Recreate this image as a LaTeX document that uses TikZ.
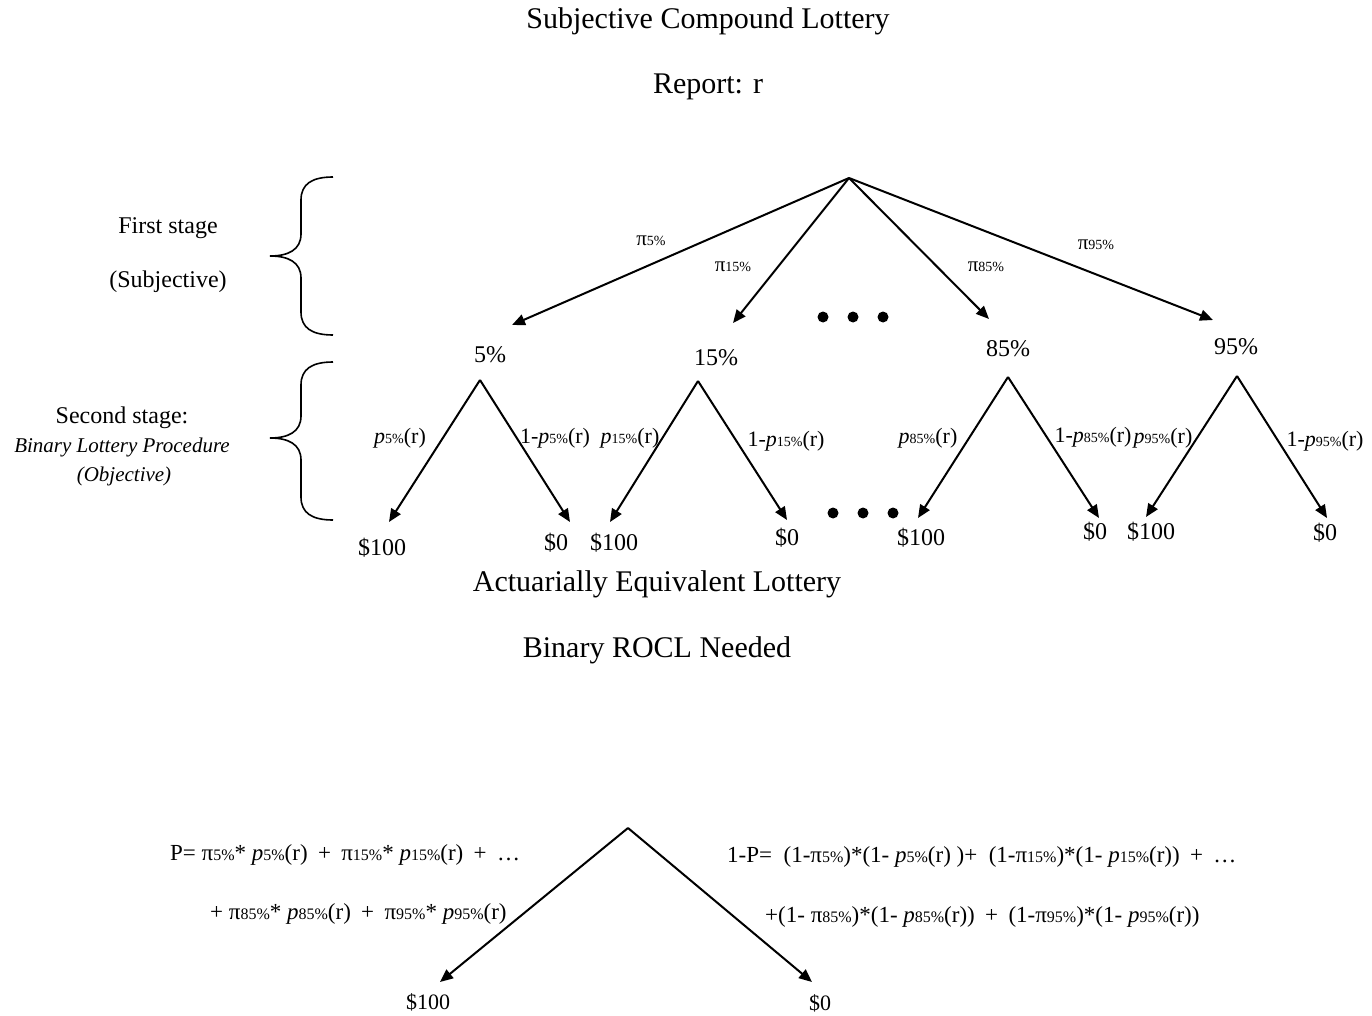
\documentclass[tikz,border=0pt]{standalone}
\usepackage{fontspec}
\setmainfont{Liberation Serif}
\usetikzlibrary{arrows.meta}
\newcommand{\subsz}[1]{{\fontsize{14}{14}\selectfont #1}}
\newcommand{\fsubsz}[1]{{\fontsize{16}{16}\selectfont #1}}
\newcommand{\pp}[1]{\textit{p}\subsz{#1}}
\newcommand{\ppi}[1]{π\subsz{#1}}
\newcommand{\fp}[1]{\textit{p}\fsubsz{#1}}
\newcommand{\fpi}[1]{π\fsubsz{#1}}
\newcommand{\pl}{\hspace{0.45em}+\hspace{0.45em}}
\newcommand{\wsp}{\hspace{0.5em}}
\begin{document}
\begin{tikzpicture}[x=1pt,y=-1pt,
  arr/.style={line width=2pt,-{Triangle[length=13pt,width=11pt]}},
  brace/.style={line width=1.6pt},
  big/.style={font=\fontsize{30}{34}\selectfont,inner sep=0pt},
  lab/.style={font=\fontsize{24}{28}\selectfont,inner sep=0pt},
  itl/.style={font=\fontsize{21}{26}\selectfont\itshape,inner sep=0pt},
  pl/.style={font=\fontsize{22}{26}\selectfont,inner sep=0pt},
  pil/.style={font=\fontsize{21}{24}\selectfont,inner sep=0pt},
  fm/.style={font=\fontsize{23}{26}\selectfont,inner sep=0pt,anchor=west},
  dot/.style={circle,fill=black,inner sep=0pt,minimum size=11pt}]
\useasboundingbox (0,0) rectangle (1372,1016);
% titles
\node[big] (title) at (708,21) {Subjective Compound Lottery};
\node[big] (report) at (708,87) {Report: r};
% stage labels
\node[lab] (fs) at (168,228) {First stage};
\node[lab] (subj) at (168,282) {(Subjective)};
\node[lab] (ss) at (122,418) {Second stage:};
\node[itl] (blp) at (122,447) {Binary Lottery Procedure};
\node[itl] (obj) at (124,476) {(Objective)};
% braces
\draw[brace] (333,177) .. controls (312,177) and (301,184) .. (301,200) -- (301,234) .. controls (301,250) and (288,256) .. (270,256) .. controls (288,256) and (301,262) .. (301,278) -- (301,312) .. controls (301,328) and (312,335) .. (333,335);
\draw[brace] (333,362) .. controls (312,362) and (301,369) .. (301,385) -- (301,416) .. controls (301,432) and (288,438) .. (270,438) .. controls (288,438) and (301,444) .. (301,460) -- (301,497) .. controls (301,513) and (312,520) .. (333,520);
% first stage tree
\coordinate (R) at (849,178);
\coordinate (e5) at (512,325);
\coordinate (e15) at (733,323);
\coordinate (e85) at (989,319);
\coordinate (e95) at (1213,320);
\draw[arr] (R) -- (e5);
\draw[arr] (R) -- (e15);
\draw[arr] (R) -- (e85);
\draw[arr] (R) -- (e95);
\node[pil] (pi5) at (651,241) {\ppi{5\%}};
\node[pil] (pi15) at (733,267) {\ppi{15\%}};
\node[pil] (pi85) at (986,267) {\ppi{85\%}};
\node[pil] (pi95) at (1096,245) {\ppi{95\%}};
\node[dot] (d1) at (823,317) {};
\node[dot] (d2) at (853,317) {};
\node[dot] (d3) at (883,317) {};
\node[lab] (n5) at (490,355) {5\%};
\node[lab] (n15) at (716,358) {15\%};
\node[lab] (n85) at (1008,349) {85\%};
\node[lab] (n95) at (1236,347) {95\%};
% second stage trees
\coordinate (r5) at (480,380);
\coordinate (r15) at (698,381);
\coordinate (r85) at (1008,377);
\coordinate (r95) at (1237,376);
\coordinate (a5) at (389,522);
\coordinate (b5) at (570,522);
\coordinate (a15) at (610,522);
\coordinate (b15) at (787,520);
\coordinate (a85) at (918,518);
\coordinate (b85) at (1099,518);
\coordinate (a95) at (1146,517);
\coordinate (b95) at (1327,518);
\draw[arr] (r5) -- (a5);
\draw[arr] (r5) -- (b5);
\draw[arr] (r15) -- (a15);
\draw[arr] (r15) -- (b15);
\draw[arr] (r85) -- (a85);
\draw[arr] (r85) -- (b85);
\draw[arr] (r95) -- (a95);
\draw[arr] (r95) -- (b95);
\node[pl] (q5) at (400,438) {\pp{5\%}(r)};
\node[pl] (q5c) at (555,438) {1-\pp{5\%}(r)};
\node[pl] (q15) at (630,438) {\pp{15\%}(r)};
\node[pl] (q15c) at (786,441) {1-\pp{15\%}(r)};
\node[pl] (q85) at (928,438) {\pp{85\%}(r)};
\node[pl] (q85c) at (1093,437) {1-\pp{85\%}(r)};
\node[pl] (q95) at (1163,438) {\pp{95\%}(r)};
\node[pl] (q95c) at (1325,441) {1-\pp{95\%}(r)};
\node[dot] (d4) at (833,513) {};
\node[dot] (d5) at (863,513) {};
\node[dot] (d6) at (893,513) {};
\node[lab] (o1) at (382,548) {\$100};
\node[lab] (o2) at (556,543) {\$0};
\node[lab] (o3) at (614,543) {\$100};
\node[lab] (o4) at (787,538) {\$0};
\node[lab] (o5) at (921,538) {\$100};
\node[lab] (o6) at (1095,532) {\$0};
\node[lab] (o7) at (1151,532) {\$100};
\node[lab] (o8) at (1325,533) {\$0};
% reduced lottery
\node[big] (ael) at (657,584) {Actuarially Equivalent Lottery};
\node[big] (brn) at (657,650) {Binary ROCL Needed};
\coordinate (B) at (628,828);
\coordinate (bl) at (440,982);
\coordinate (br) at (812,982);
\draw[arr] (B) -- (bl);
\draw[arr] (B) -- (br);
\node[pl] (w100) at (428,1002) {\$100};
\node[pl] (w0) at (820,1003) {\$0};
\node[fm] (f1) at (170,855) {P= \fpi{5\%}* \fp{5\%}(r)\pl\fpi{15\%}* \fp{15\%}(r)\pl\ldots};
\node[fm] (f2) at (210,914) {+ \fpi{85\%}* \fp{85\%}(r)\pl\fpi{95\%}* \fp{95\%}(r)};
\node[fm] (f3) at (727,857) {1-P=\wsp(1-\fpi{5\%})*(1- \fp{5\%}(r) )+\wsp(1-\fpi{15\%})*(1- \fp{15\%}(r))\pl\ldots};
\node[fm] (f4) at (765,917) {+(1- \fpi{85\%})*(1- \fp{85\%}(r))\pl(1-\fpi{95\%})*(1- \fp{95\%}(r))};
\end{tikzpicture}
\end{document}
